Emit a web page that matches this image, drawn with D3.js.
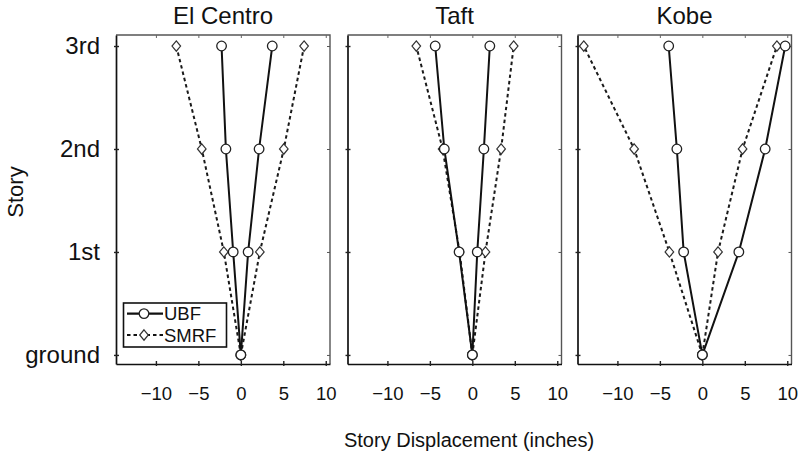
<!DOCTYPE html>
<html><head><meta charset="utf-8">
<script src="https://cdn.jsdelivr.net/npm/d3@7"></script>
<style>body{margin:0;background:#fff}svg{display:block}text{font-family:"Liberation Sans",Arial,sans-serif;fill:#111}</style>
</head><body><svg id="c" width="799" height="452"></svg>
<script>
const panels = ["El Centro", "Taft", "Kobe"];
const stories = ["ground", "1st", "2nd", "3rd"];
const levels = [0, 1, 2, 3];
const xTicks = [-10, -5, 0, 5, 10];
const ubfMin = [[0, -0.9, -1.76, -2.27], [0, -1.56, -3.3, -4.37], [0, -2.2, -3.0, -3.96]];
const ubfMax = [[0, 0.86, 2.15, 3.7], [0, 0.58, 1.36, 2.06], [0, 4.3, 7.4, 9.76]];
const smrfMin = [[0, -2.0, -4.6, -7.6], [0, -1.5, -3.5, -6.6], [0, -3.88, -8.03, -13.96]];
const smrfMax = [[0, 2.24, 5.06, 7.45], [0, 1.55, 3.39, 4.87], [0, 1.85, 4.74, 8.78]];
const seriesNames = ["UBF", "SMRF"];

(function () {
const svg = d3.select("#c");
const pTop = 35, pBottom = 364, pw = 214;
const lefts = [116, 347.5, 577.5];
const y = d3.scaleLinear().domain([-0.088, 3.107]).range([pBottom, pTop]);
const diamondType = { draw(ctx, size) { const w = 4.3, h = 5.2; ctx.moveTo(0, -h); ctx.lineTo(w, 0); ctx.lineTo(0, h); ctx.lineTo(-w, 0); ctx.closePath(); } };
const diamond = d3.symbol().type(diamondType);

panels.forEach((name, i) => {
  const x = d3.scaleLinear().domain([-14.7, 10.5]).range([lefts[i], lefts[i] + pw]);
  const g = svg.append("g");
  g.append("path").attr("d", `M${lefts[i]},${pTop}H${lefts[i]+pw}V${pBottom}`)
    .attr("fill", "none").attr("stroke", "#555").attr("stroke-width", 1.4);
  const xa = g.append("g").attr("transform", `translate(0,${pBottom})`)
    .call(d3.axisBottom(x).tickValues(xTicks).tickSizeInner(-3).tickSizeOuter(0));
  xa.select(".domain").attr("stroke", "#111").attr("stroke-width", 1.7);
  xa.selectAll(".tick line").attr("stroke", "#222").attr("stroke-width", 1.4).attr("y1", 2);
  xa.selectAll(".tick text").style("font-size", "18.5px").attr("fill", "#111").attr("dy", "0.35em").attr("y", 30);
  g.append("g").attr("transform", `translate(0,${pTop})`)
    .call(d3.axisTop(x).tickValues(xTicks).tickSizeInner(-3).tickSizeOuter(0).tickFormat(""))
    .call(s => { s.select(".domain").remove(); s.selectAll("line").attr("stroke", "#666"); });
  const ya = g.append("g").attr("transform", `translate(${lefts[i]},0)`)
    .call(d3.axisLeft(y).tickValues(levels).tickSizeInner(-3).tickSizeOuter(0)
      .tickFormat(d => i === 0 ? stories[d] : "").tickPadding(16));
  ya.select(".domain").attr("stroke", "#111").attr("stroke-width", 1.7);
  ya.selectAll(".tick line").attr("stroke", "#222").attr("stroke-width", 1.4).attr("x1", -2);
  ya.selectAll(".tick text").style("font-size", "24px").attr("fill", "#111");
  g.append("g").attr("transform", `translate(${lefts[i]+pw},0)`)
    .call(d3.axisRight(y).tickValues(levels).tickSizeInner(-3).tickSizeOuter(0).tickFormat(""))
    .call(s => { s.select(".domain").remove(); s.selectAll("line").attr("stroke", "#555"); });
  g.append("text").attr("x", lefts[i] + pw / 2).attr("y", 24).attr("text-anchor", "middle")
    .style("font-size", "24px").text(name);

  const line = d3.line().x(d => x(d[0])).y(d => y(d[1]));
  const pts = arr => arr.map((v, k) => [v, levels[k]]);
  [smrfMin[i], smrfMax[i]].forEach(arr => {
    g.append("path").attr("d", line(pts(arr))).attr("fill", "none")
      .attr("stroke", "#1a1a1a").attr("stroke-width", 2).attr("stroke-dasharray", "3.5,3");
    g.selectAll(null).data(pts(arr)).enter().append("path")
      .attr("d", diamond).attr("transform", d => `translate(${x(d[0])},${y(d[1])})`)
      .attr("fill", "#fff").attr("stroke", "#333").attr("stroke-width", 1.2);
  });
  [ubfMin[i], ubfMax[i]].forEach(arr => {
    g.append("path").attr("d", line(pts(arr))).attr("fill", "none")
      .attr("stroke", "#111").attr("stroke-width", 2);
    g.selectAll(null).data(pts(arr)).enter().append("circle")
      .attr("cx", d => x(d[0])).attr("cy", d => y(d[1])).attr("r", 4.8)
      .attr("fill", "#fff").attr("stroke", "#222").attr("stroke-width", 1.3);
  });
});

const lg = svg.append("g");
lg.append("rect").attr("x", 123.5).attr("y", 303).attr("width", 103).attr("height", 44)
  .attr("fill", "#fff").attr("stroke", "#111").attr("stroke-width", 1.6);
seriesNames.forEach((s, k) => {
  const yy = 313.6 + k * 21.4;
  lg.append("line").attr("x1", 127).attr("x2", 163).attr("y1", yy).attr("y2", yy)
    .attr("stroke", "#111").attr("stroke-width", k ? 2 : 2.4).attr("stroke-dasharray", k ? "3.5,3" : null);
  if (k === 0) lg.append("circle").attr("cx", 144).attr("cy", yy).attr("r", 4.8).attr("fill", "#fff").attr("stroke", "#222").attr("stroke-width", 1.3);
  else lg.append("path").attr("d", diamond).attr("transform", `translate(144,${yy})`).attr("fill", "#fff").attr("stroke", "#333").attr("stroke-width", 1.2);
  lg.append("text").attr("x", 164).attr("y", yy).attr("dy", "0.36em").style("font-size", "18.5px").text(s);
});

svg.append("text").attr("transform", "translate(23,192) rotate(-90)").attr("text-anchor", "middle")
  .style("font-size", "22px").text("Story");
svg.append("text").attr("x", 469).attr("y", 447).attr("text-anchor", "middle")
  .style("font-size", "20px").text("Story Displacement (inches)");
})();
</script></body></html>
